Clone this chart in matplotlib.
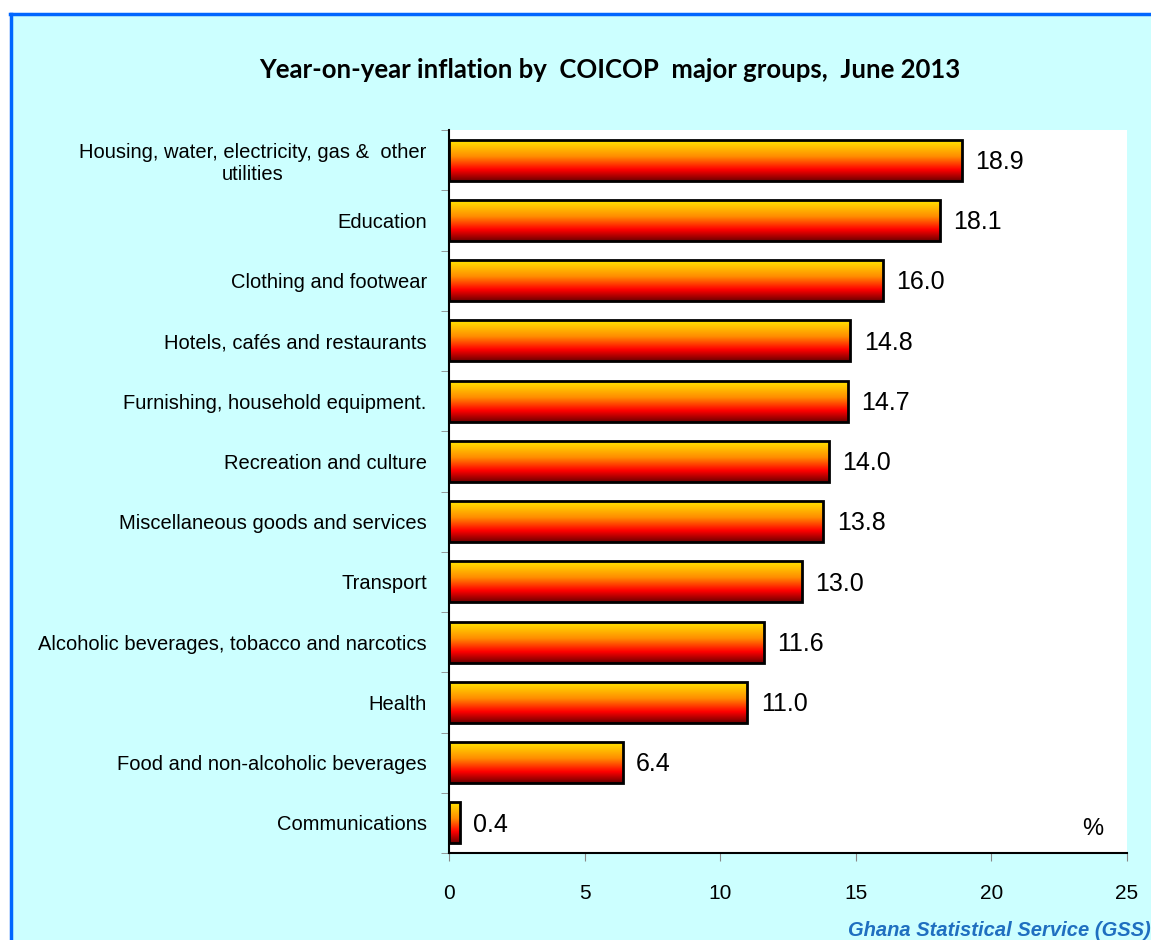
import numpy as np
import matplotlib
matplotlib.use('Agg')
import matplotlib.pyplot as plt
from matplotlib.colors import LinearSegmentedColormap
from matplotlib.patches import Rectangle
from matplotlib.lines import Line2D

categories = ['Housing, water, electricity, gas &  other\nutilities',
              'Education',
              'Clothing and footwear',
              'Hotels, cafés and restaurants',
              'Furnishing, household equipment.',
              'Recreation and culture',
              'Miscellaneous goods and services',
              'Transport',
              'Alcoholic beverages, tobacco and narcotics',
              'Health',
              'Food and non-alcoholic beverages',
              'Communications']
values = [18.9, 18.1, 16.0, 14.8, 14.7, 14.0, 13.8, 13.0, 11.6, 11.0, 6.4, 0.4]
xticks = [0, 5, 10, 15, 20, 25]

W, H = 1151, 940
fig = plt.figure(figsize=(W / 100, H / 100), dpi=100)
fig.patch.set_facecolor('white')

# cyan chart area with blue border (left and top visible)
fig.add_artist(Rectangle((10 / W, 0), 1 - 10 / W, 1 - 14 / H, transform=fig.transFigure,
                         facecolor='#CCFFFF', edgecolor='none', zorder=0))
fig.add_artist(Line2D([10.5 / W, 10.5 / W], [0, 1 - 14 / H], transform=fig.transFigure,
                      color='#0066FF', lw=2.5))
fig.add_artist(Line2D([10 / W, 1], [1 - 14 / H, 1 - 14 / H], transform=fig.transFigure,
                      color='#0066FF', lw=2.5))

ax = fig.add_axes([449 / W, 87 / H, 678 / W, 723 / H])
ax.set_facecolor('white')

cmap = LinearSegmentedColormap.from_list('bar', [(0, '#FFE600'), (0.4, '#FF8C00'),
                                                 (0.72, '#FF0000'), (1, '#6E0000')])
grad = np.linspace(0, 1, 256).reshape(-1, 1)
h = 0.68
n = len(values)
for i, v in enumerate(values):
    ax.imshow(grad, extent=[0, v, i + h / 2, i - h / 2], aspect='auto', cmap=cmap,
              origin='upper', zorder=2, interpolation='bilinear')
    ax.add_patch(Rectangle((0, i - h / 2), v, h, facecolor='none', edgecolor='black',
                           lw=2, zorder=3))
    ax.text(v + 0.5, i + 0.03, f'{v:.1f}', va='center', ha='left', fontsize=18,
            family='Liberation Sans', color='black')

ax.set_xlim(0, 25)
ax.set_ylim(n - 0.5, -0.5)
ax.set_aspect('auto')

ax.set_yticks(range(n))
ax.set_yticklabels(categories, fontsize=14.5, family='Liberation Sans')
for t in ax.get_yticklabels():
    t.set_multialignment('center')
ax.set_yticks(np.arange(-0.5, n, 1), minor=True)
ax.tick_params(axis='y', which='major', length=0, pad=16)
ax.tick_params(axis='y', which='minor', length=6, color='#888888', direction='out')

ax.set_xticks(xticks)
ax.set_xticklabels([str(x) for x in xticks], fontsize=15, family='Liberation Sans')
ax.tick_params(axis='x', length=6, color='#888888', direction='out', pad=16)

for s in ['top', 'right']:
    ax.spines[s].set_visible(False)
ax.spines['left'].set_linewidth(1.5)
ax.spines['bottom'].set_linewidth(1.5)

ax.text(23.75, 11.1, '%', fontsize=17, family='Liberation Sans', ha='center', va='center')

fig.text(610 / W, 1 - 70 / H, 'Year-on-year inflation by  COICOP  major groups,  June 2013',
         ha='center', va='center', fontsize=18.5, fontweight='bold', family='Lato')

fig.text(848 / W, 1 - 931 / H, 'Ghana Statistical Service (GSS)', ha='left', va='center',
         fontsize=14.5, fontweight='bold', style='italic', color='#1F6FC0',
         family='Liberation Sans')

fig.savefig('out.png', dpi=100)
